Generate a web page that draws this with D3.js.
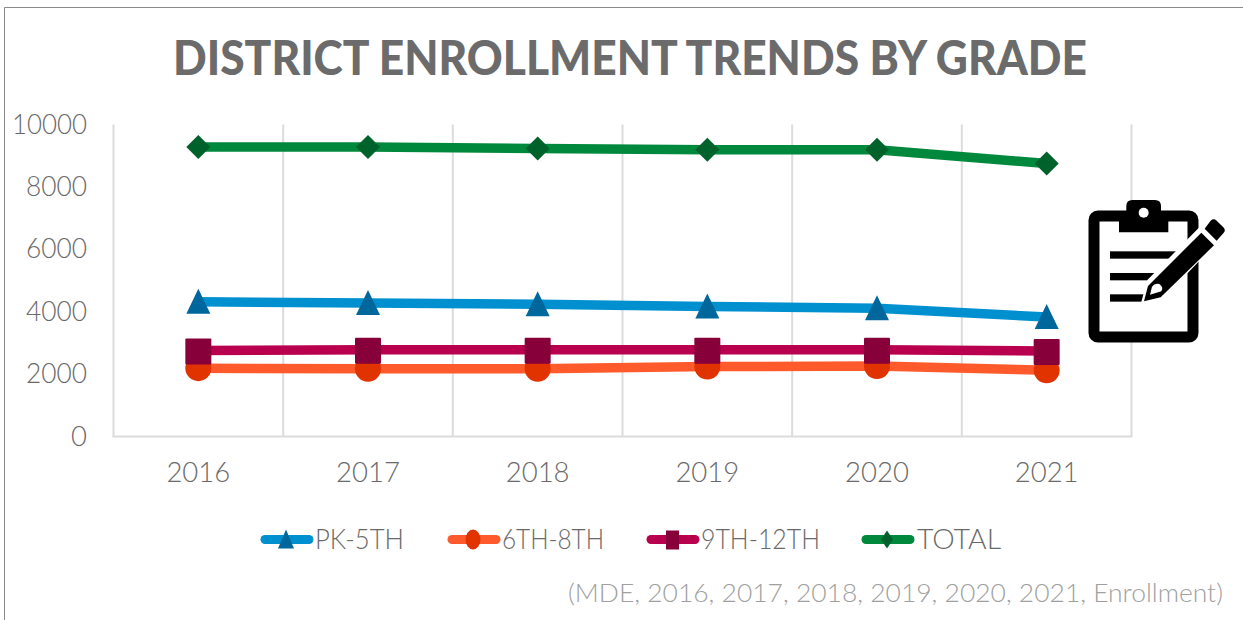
<!DOCTYPE html>
<html><head><meta charset="utf-8">
<script src="https://cdn.jsdelivr.net/npm/d3@7"></script>
<style>html,body{margin:0;padding:0;background:#fff}svg{display:block}text{font-family:Lato,"Open Sans",sans-serif}</style>
</head><body><svg id="c" width="1243" height="620"></svg>
<script>
const years=["2016","2017","2018","2019","2020","2021"];
const pk5=[4320,4280,4240,4170,4110,3830];
const m68=[2190,2170,2170,2240,2260,2120];
const h912=[2760,2780,2780,2780,2780,2740];
const total=[9280,9280,9230,9190,9190,8750];
const yTicks=[0,2000,4000,6000,8000,10000];
const seriesNames=["PK-5TH","6TH-8TH","9TH-12TH","TOTAL"];
const seriesValues=[pk5,m68,h912,total];
const lineColors=["#0090d0","#ff5a2b","#b9004f","#00883c"];
const markColors=["#00679c","#e03300","#88003a","#00622b"];
const markTypes=["triangle","circle","square","diamond"];
const titleText="DISTRICT ENROLLMENT TRENDS BY GRADE";
const sourceText="(MDE, 2016, 2017, 2018, 2019, 2020, 2021, Enrollment)";

const svg=d3.select("#c");
svg.append("path").attr("d","M4.5,620V7.5H1243").attr("fill","none").attr("stroke","#8a8a8a").attr("stroke-width",1);
const x=d3.scaleBand().domain(years).range([113.5,1131.5]);
const y=d3.scaleLinear().domain([0,10000]).range([436.5,124.5]);
const grid="#dcdcdc";
const edges=years.map(d=>x(d)).concat([x.range()[1]]);
svg.append("g").selectAll("line").data(edges).join("line")
 .attr("x1",d=>d).attr("x2",d=>d).attr("y1",y(10000)).attr("y2",y(0))
 .attr("stroke",grid).attr("stroke-width",2);
svg.append("line").attr("x1",112.5).attr("x2",1132.5).attr("y1",y(0)).attr("y2",y(0)).attr("stroke",grid).attr("stroke-width",2);

svg.append("text").attr("x",630).attr("y",75).attr("text-anchor","middle").attr("font-size",47).attr("font-weight",900)
 .attr("fill","#6b6b6b").attr("textLength",914).attr("lengthAdjust","spacingAndGlyphs").text(titleText);

svg.append("g").selectAll("text").data(yTicks).join("text").attr("x",87).attr("y",d=>y(d)+9)
 .attr("text-anchor","end").attr("font-size",27.5).attr("font-weight",300).attr("fill","#6a6a6a")
 .each(function(d){ if(d>0) d3.select(this).attr("textLength",d===10000?75:61).attr("lengthAdjust","spacingAndGlyphs"); })
 .text(d=>d);
svg.append("g").selectAll("text").data(years).join("text").attr("x",d=>x(d)+x.bandwidth()/2).attr("y",482)
 .attr("text-anchor","middle").attr("font-size",27.5).attr("font-weight",300).attr("fill","#6a6a6a").text(d=>d);

const line=d3.line().x((d,i)=>x(years[i])+x.bandwidth()/2).y(d=>y(d));
function marker(g,t,i,cx,cy){
  if(t==="diamond"){const r=12;g.append("path").attr("d",`M${cx},${cy-r}L${cx+r},${cy}L${cx},${cy+r}L${cx-r},${cy}Z`).attr("fill",markColors[i]);return;}
  if(t==="triangle"){g.append("path").attr("d",`M${cx},${cy-13}L${cx+12},${cy+12}L${cx-12},${cy+12}Z`).attr("fill",markColors[i]);return;}
  if(t==="square"){g.append("rect").attr("x",cx-13).attr("y",cy-12).attr("width",26).attr("height",26).attr("rx",1).attr("fill",markColors[i]);return;}
  g.append("circle").attr("cx",cx).attr("cy",cy).attr("r",13).attr("fill",markColors[i]);
}
seriesValues.forEach((vals,i)=>{
  const g=svg.append("g");
  g.append("path").attr("d",line(vals)).attr("fill","none").attr("stroke",lineColors[i]).attr("stroke-width",9.5).attr("stroke-linecap","round").attr("stroke-linejoin","round");
  vals.forEach((v,j)=>marker(g,markTypes[i],i,x(years[j])+x.bandwidth()/2,y(v)));
});

// legend
const legX=[261,448,647,862], legTextX=[315,502,701,917], legTextW=[89,102,119,84];
seriesNames.forEach((n,i)=>{
  const g=svg.append("g"), cy=539.5;
  g.append("line").attr("x1",legX[i]+4).attr("x2",legX[i]+48).attr("y1",cy).attr("y2",cy).attr("stroke",lineColors[i]).attr("stroke-width",9).attr("stroke-linecap","round");
  const cx=legX[i]+25;
  if(markTypes[i]==="circle") g.append("ellipse").attr("cx",cx).attr("cy",cy).attr("rx",7.5).attr("ry",10).attr("fill",markColors[i]);
  else if(markTypes[i]==="square") g.append("rect").attr("x",cx-6).attr("y",cy-9).attr("width",13).attr("height",19).attr("fill",markColors[i]);
  else if(markTypes[i]==="triangle") g.append("path").attr("d",`M${cx},${cy-10}L${cx+8},${cy+9}L${cx-8},${cy+9}Z`).attr("fill",markColors[i]);
  else g.append("path").attr("d",`M${cx},${cy-9}L${cx+6},${cy}L${cx},${cy+9}L${cx-6},${cy}Z`).attr("fill",markColors[i]);
  g.append("text").attr("x",legTextX[i]).attr("y",549).attr("font-size",27.5).attr("font-weight",300).attr("fill","#6a6a6a")
   .attr("textLength",legTextW[i]).attr("lengthAdjust","spacingAndGlyphs").text(n);
});

svg.append("text").attr("x",1223).attr("y",602).attr("text-anchor","end").attr("font-size",26).attr("font-weight",300).attr("fill","#a0a0a0")
 .attr("textLength",655).attr("lengthAdjust","spacingAndGlyphs").text(sourceText);

// clipboard icon
const ic=svg.append("g").attr("transform","translate(1060,180) scale(0.3333)");
ic.append("rect").attr("x",102).attr("y",108).attr("width",297).attr("height",363).attr("rx",12).attr("fill","#fff").attr("stroke","#000").attr("stroke-width",33);
ic.append("path").attr("d","M177,157V106H199V78Q199,60 217,60H285Q303,60 303,78V106H325V157Z").attr("fill","#000");
ic.append("circle").attr("cx",251).attr("cy",98).attr("r",15).attr("fill","#fff");
ic.append("rect").attr("x",150).attr("y",214).attr("width",200).attr("height",22).attr("fill","#000");
ic.append("rect").attr("x",150).attr("y",279).attr("width",140).attr("height",22).attr("fill","#000");
ic.append("rect").attr("x",150).attr("y",343).attr("width",110).attr("height",22).attr("fill","#000");
ic.append("path").attr("d","M240,380L262,300L430,130L510,150L430,230L320,345Z").attr("fill","#fff");
ic.append("path").attr("d","M252,364L264,318L424,158L462,196L302,352Z").attr("fill","#000");
ic.append("path").attr("d","M270,344L276,320Q284,308 298,312Q312,322 304,334Z").attr("fill","#fff");
ic.append("path").attr("d","M434,146L452,122Q461,114 470,122L490,142Q499,151 490,160L470,182Z").attr("fill","#000");
</script></body></html>
